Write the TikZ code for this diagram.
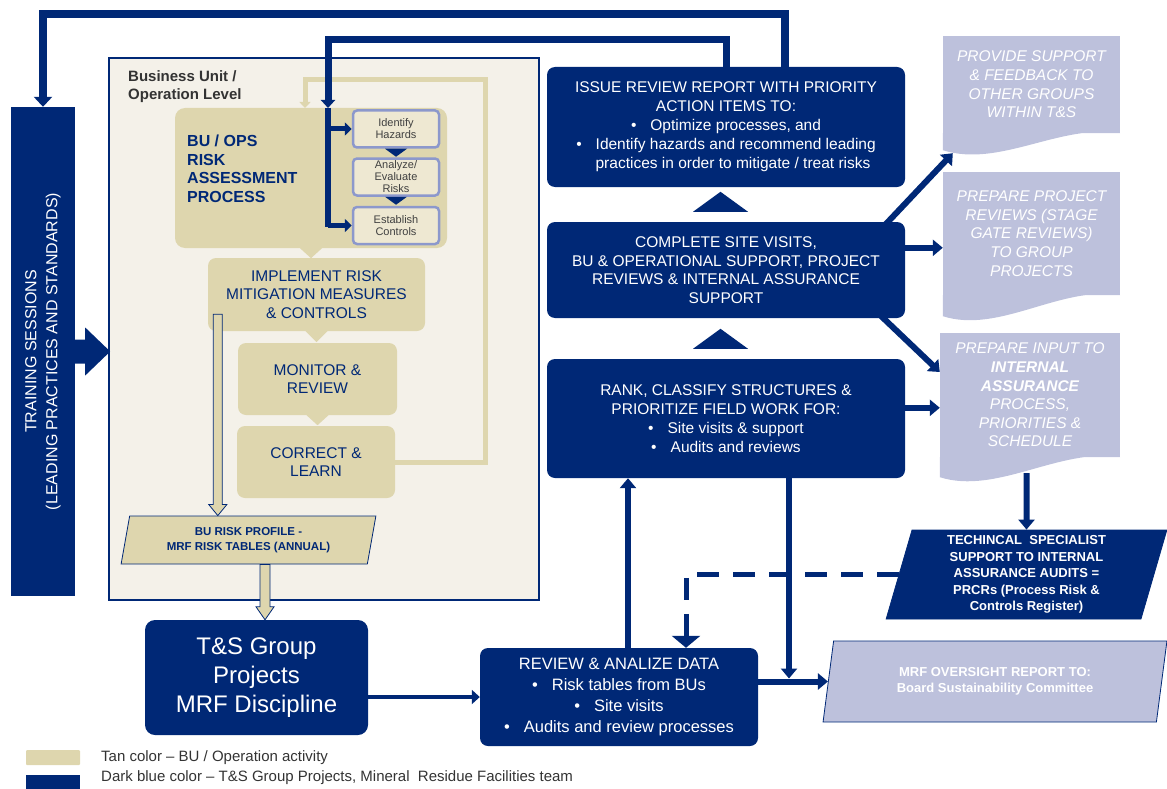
\documentclass[tikz,border=0pt]{standalone}
\usepackage{fontspec}
\setmainfont{Liberation Sans}
\usetikzlibrary{arrows.meta,calc,shapes.geometric}

\definecolor{dblue}{RGB}{0,40,118}
\definecolor{tanc}{RGB}{222,214,174}
\definecolor{cream}{RGB}{244,241,233}
\definecolor{lav}{RGB}{189,193,220}
\definecolor{lavline}{RGB}{140,152,204}
\definecolor{smallfill}{RGB}{238,232,210}
\definecolor{dgray}{RGB}{64,64,64}
\definecolor{lgray}{RGB}{51,51,51}

\begin{document}
\begin{tikzpicture}[x=1pt,y=-1pt,
	bluebox/.style={rectangle, rounded corners=8pt, fill=dblue, text=white, align=center, inner sep=0pt},
	tanbox/.style={rectangle, rounded corners=8pt, fill=tanc, text=dblue, align=center, inner sep=0pt, font=\fontsize{15.5}{18.5}\selectfont},
	smallbox/.style={rectangle, rounded corners=4pt, draw=lavline, line width=2.5pt, fill=smallfill, text=dgray, align=center, inner sep=0pt, minimum width=86pt, minimum height=37pt, font=\fontsize{11}{12}\selectfont},
	docbox/.style={rectangle, fill=lav, text=white, align=center, inner sep=0pt, font=\fontsize{15.5}{18.6}\selectfont\itshape},
	slant/.style={trapezium, trapezium left angle=77, trapezium right angle=103, trapezium stretches=true, draw=dblue, line width=0.8pt, inner sep=0pt, align=center},
	link/.style={draw=dblue, line width=6pt, -{Triangle[length=10pt,width=16pt]}},
	hollow/.style={draw=dblue, line width=0.8pt, fill=tanc}]
	\useasboundingbox (0,0) rectangle (1167,789);

	% training
	\node[rectangle, fill=dblue, minimum width=64pt, minimum height=489pt, inner sep=0pt] (train) at (43,351.5) {};
	\node[rotate=90, text=white, align=center, font=\fontsize{16}{21}\selectfont] (traintxt) at (train.center) {TRAINING SESSIONS\\(LEADING PRACTICES AND STANDARDS)};

	% business unit level
	\node[rectangle, draw=dblue, line width=2.5pt, fill=cream, minimum width=430pt, minimum height=542pt, inner sep=0pt] (bu) at (324,329) {};
	\node[anchor=north west, align=left, text=lgray, font=\fontsize{15}{18}\selectfont\bfseries, inner sep=0pt] (bulabel) at (128,70) {Business Unit /\\Operation Level};

	\node[rectangle, rounded corners=10pt, fill=tanc, minimum width=272pt, minimum height=140pt, inner sep=0pt] (proc) at (311,178) {};
	\node[anchor=west, align=left, text=dblue, font=\fontsize{16}{18.5}\selectfont\bfseries, inner sep=0pt] (proctxt) at (187,169) {BU / OPS\\RISK\\ASSESSMENT\\PROCESS};

	\node[smallbox] (idh) at (396,129) {Identify\\Hazards};
	\node[smallbox] (ana) at (396,177) {Analyze/\\Evaluate\\Risks};
	\node[smallbox] (est) at (396,225.5) {Establish\\Controls};

	\node[tanbox, minimum width=217pt, minimum height=73pt] (impl) at (316.5,294.5) {IMPLEMENT RISK\\MITIGATION MEASURES\\\& CONTROLS};
	\node[tanbox, minimum width=159pt, minimum height=72pt] (mon) at (317.5,379) {MONITOR \&\\REVIEW};
	\node[tanbox, minimum width=158pt, minimum height=72pt] (corr) at (316,462) {CORRECT \&\\LEARN};

	\node[slant, fill=tanc, text=dblue, font=\fontsize{11.5}{15}\selectfont\bfseries, minimum width=255pt, minimum height=48pt] (prof) at (248.5,540) {BU RISK PROFILE -\\MRF RISK TABLES (ANNUAL)};

	% loop back
	\coordinate (loopa) at (485,80);
	\coordinate (procin) at (305,108);
	\draw[tanc, line width=5pt, -{Triangle[length=6pt,width=11pt]}] (corr.east) -| (loopa) -| (procin);

	\fill[dblue] ($(idh.south)+(-11,0)$) -- ($(idh.south)+(11,0)$) -- ($(idh.south)+(0,8)$) -- cycle;
	\fill[dblue] ($(ana.south)+(-11,0)$) -- ($(ana.south)+(11,0)$) -- ($(ana.south)+(0,8)$) -- cycle;
	\fill[tanc] ($(proc.south)+(-11,0)$) -- ($(proc.south)+(11,0)$) -- ($(proc.south)+(0,10)$) -- cycle;
	\fill[tanc] ($(impl.south)+(-11,0)$) -- ($(impl.south)+(11,0)$) -- ($(impl.south)+(0,11)$) -- cycle;
	\fill[tanc] ($(mon.south)+(-11,0)$) -- ($(mon.south)+(11,0)$) -- ($(mon.south)+(0,10)$) -- cycle;

	% group projects
	\node[bluebox, rounded corners=10pt, minimum width=223pt, minimum height=115pt, font=\fontsize{24}{29}\selectfont] (tns) at (256.5,677.5) {T\&S Group\\Projects\\MRF Discipline};
	\node[bluebox, minimum width=358pt, minimum height=120pt, font=\fontsize{15.5}{19}\selectfont] (issue) at (726,127) {ISSUE REVIEW REPORT WITH PRIORITY\\ACTION ITEMS TO:\\•\hspace{14pt}Optimize processes, and\\•\hspace{14pt}Identify hazards and recommend leading\\\hspace{14pt}practices in order to mitigate / treat risks};
	\node[bluebox, minimum width=358pt, minimum height=96pt, font=\fontsize{15.5}{18.6}\selectfont] (complete) at (726,270) {COMPLETE SITE VISITS,\\BU \& OPERATIONAL SUPPORT, PROJECT\\REVIEWS \& INTERNAL ASSURANCE\\SUPPORT};
	\node[bluebox, minimum width=358pt, minimum height=119pt, font=\fontsize{15.5}{19}\selectfont] (rank) at (726,418.5) {RANK, CLASSIFY STRUCTURES \&\\PRIORITIZE FIELD WORK FOR:\\•\hspace{14pt}Site visits \& support\\•\hspace{14pt}Audits and reviews};
	\node[bluebox, minimum width=278pt, minimum height=98pt, font=\fontsize{16.5}{20.7}\selectfont] (review) at (619,697) {REVIEW \& ANALIZE DATA\\•\hspace{14pt}Risk tables from BUs\\•\hspace{14pt}Site visits\\•\hspace{14pt}Audits and review processes};

	% outputs
	\node[docbox, minimum width=177pt, minimum height=97pt] (provide) at (1031.5,84.5) {PROVIDE SUPPORT\\\& FEEDBACK TO\\OTHER GROUPS\\WITHIN T\&S};
	\fill[lav] (provide.south west) -- ++(0,17) .. controls +(57,18) and +(-60,-10) .. (provide.south east) -- cycle;
	\node[docbox, minimum width=177pt, minimum height=123pt] (project) at (1031.5,233.5) {PREPARE PROJECT\\REVIEWS (STAGE\\GATE REVIEWS)\\TO GROUP\\PROJECTS};
	\fill[lav] (project.south west) -- ++(0,21) .. controls +(57,18) and +(-60,-10) .. (project.south east) -- cycle;
	\node[docbox, minimum width=180pt, minimum height=124pt] (input) at (1030,395) {PREPARE INPUT TO\\\textbf{INTERNAL}\\\textbf{ASSURANCE}\\PROCESS,\\PRIORITIES \&\\SCHEDULE};
	\fill[lav] (input.south west) -- ++(0,20) .. controls +(57,18) and +(-60,-10) .. (input.south east) -- cycle;

	\node[slant, fill=dblue, text=white, font=\fontsize{13}{16.5}\selectfont\bfseries, minimum width=281pt, minimum height=89pt] (tech) at (1026.5,574.5) {TECHINCAL\ \ SPECIALIST\\SUPPORT TO INTERNAL\\ASSURANCE AUDITS =\\PRCRs (Process Risk \&\\Controls Register)};
	\node[slant, fill=lav, text=white, font=\fontsize{13}{16}\selectfont\bfseries, minimum width=344pt, minimum height=81pt] (mrf) at (995,681.5) {MRF OVERSIGHT REPORT TO:\\Board Sustainability Committee};

	% legend
	\node[rectangle, fill=tanc, rounded corners=1pt, minimum width=54pt, minimum height=15pt, inner sep=0pt] (keytan) at (53,757.5) {};
	\node[anchor=west, inner sep=0pt, text=lgray, font=\fontsize{15}{18}\selectfont] (keytantxt) at (101,758) {Tan color – BU / Operation activity};
	\node[rectangle, fill=dblue, minimum width=54pt, minimum height=16pt, inner sep=0pt] (keyblue) at (53,783) {};
	\node[anchor=west, inner sep=0pt, text=lgray, font=\fontsize{15}{18}\selectfont] (keybluetxt) at (101,778) {Dark blue color – T\&S Group Projects, Mineral\ \ Residue Facilities team};

	% feedback lines on top
	\coordinate (issueout) at (785,67);
	\coordinate (top1) at (43,14);
	\coordinate (top2) at (328,40);
	\coordinate (brk) at (328,108);
	\coordinate (brkend) at (328,227);
	\draw[dblue, line width=8pt, -{Triangle[length=10pt,width=18pt]}] (issueout) |- (top1) -- (train.north);
	\draw[dblue, line width=7pt, -{Triangle[length=8pt,width=14pt]}] (issue.north) |- (top2) -- (brk);
	\draw[dblue, line width=6pt] (brk) -- (brkend);
	\draw[dblue, line width=5pt, -{Triangle[length=7pt,width=13pt]}] (brk |- idh.west) -- (idh.west);
	\draw[dblue, line width=5pt, -{Triangle[length=7pt,width=13pt]}] (brkend |- est.west) -- (est.west);

	% training into business unit
	\fill[dblue] ($(train.east)+(0,-12)$) -- ($(train.east)+(10,-12)$) -- ($(train.east)+(10,-24)$) -- ($(train.east)+(35,0)$) -- ($(train.east)+(10,24)$) -- ($(train.east)+(10,12)$) -- ($(train.east)+(0,12)$) -- cycle;

	% risk profile
	\coordinate (a1) at ($(impl.south west)+(10,-17)$);
	\coordinate (a2) at (a1 |- prof.north);
	\draw[hollow] ($(a1)+(-4.5,0)$) -- ($(a1)+(4.5,0)$) -- ($(a2)+(4.5,-11)$) -- ($(a2)+(9,-11)$) -- (a2) -- ($(a2)+(-9,-11)$) -- ($(a2)+(-4.5,-11)$) -- cycle;
	\coordinate (b1) at ($(prof.south)+(16.5,0)$);
	\coordinate (b2) at (b1 |- tns.north);
	\draw[hollow] ($(b1)+(-5,0)$) -- ($(b1)+(5,0)$) -- ($(b2)+(5,-13)$) -- ($(b2)+(9,-13)$) -- (b2) -- ($(b2)+(-9,-13)$) -- ($(b2)+(-5,-13)$) -- cycle;

	% blue flow
	\draw[dblue, line width=4.5pt, -{Triangle[length=8pt,width=14pt]}] (tns.east |- review.west) -- (review.west);
	\coordinate (up1) at ($(review.north)+(9,0)$);
	\draw[link] (up1) -- (up1 |- rank.south);
	\fill[dblue] ($(rank.north)+(-33,-10)$) -- ($(rank.north)+(22,-10)$) -- ($(rank.north)+(-5.5,-30)$) -- cycle;
	\fill[dblue] ($(complete.north)+(-33,-10)$) -- ($(complete.north)+(22,-10)$) -- ($(complete.north)+(-5.5,-30)$) -- cycle;

	\draw[link] ($(complete.north east)+(-20,3)$) -- ($(provide.south west)+(10,20)$);
	\coordinate (c2) at ($(complete.north east)+(0,26)$);
	\draw[link] (c2) -- (c2 -| project.west);
	\draw[link] ($(complete.south east)+(-25,-3)$) -- ($(input.west)+(0,-23)$);
	\coordinate (c4) at ($(rank.north east)+(0,49)$);
	\draw[link] (c4) -- (c4 -| input.west);
	\draw[link] ($(input.south)+(-3.5,16)$) -- (tech.north);

	\coordinate (dsh) at ($(review.north)+(67,0)$);
	\draw[dblue, line width=5pt, dash pattern=on 22pt off 14pt, -{Triangle[length=12pt,width=28pt]}] (tech.west) -| (dsh);

	\coordinate (dn1) at ($(rank.south)+(63,0)$);
	\draw[link] (dn1) -- ($(dn1 |- mrf.west)+(0,-3)$);
	\draw[link] (review.east |- mrf.west) -- (mrf.west);
\end{tikzpicture}
\end{document}
